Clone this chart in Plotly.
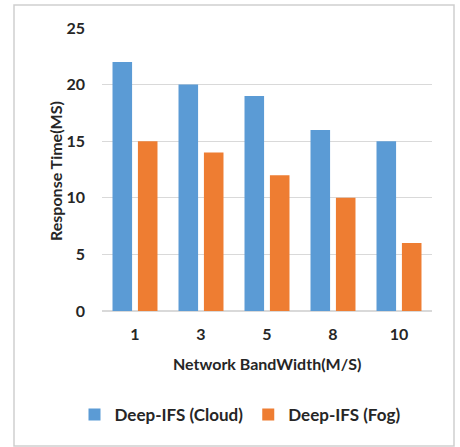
import plotly.graph_objects as go

categories = ["1", "3", "5", "8", "10"]
cloud = [22, 20, 19, 16, 15]
fog = [15, 14, 12, 10, 6]
y_ticks = [0, 5, 10, 15, 20, 25]

FONT = "Lato"
fig = go.Figure()
fig.add_trace(go.Bar(x=categories, y=cloud, name="Deep-IFS (Cloud)",
                     marker=dict(color="#5B9BD5", line=dict(width=0))))
fig.add_trace(go.Bar(x=categories, y=fog, name="Deep-IFS (Fog)",
                     marker=dict(color="#EE7D32", line=dict(width=0))))

W, H = 460, 447
L, R, T, B = 102, 28, 28, 136
pw, ph = W - L - R, H - T - B

def px(x):
    return (x - L) / pw

def py(y):
    return (H - B - y) / ph

fig.update_layout(
    width=W, height=H,
    margin=dict(l=L, r=R, t=T, b=B),
    paper_bgcolor="white", plot_bgcolor="white",
    barmode="group", bargap=0.23, bargroupgap=0.23,
    font=dict(family=FONT, color="#262626"),
    showlegend=True,
    legend=dict(orientation="h", x=px(240), y=py(415), xanchor="center", yanchor="middle",
                font=dict(size=17, family=FONT, weight="bold"), itemwidth=30,
                tracegroupgap=0),
    xaxis=dict(type="category", showgrid=False, showline=False, ticks="",
               tickfont=dict(size=16, family=FONT, weight="bold"), ticklabelstandoff=12),
    yaxis=dict(range=[0, 25], tickvals=y_ticks, showgrid=True, gridcolor="#D9D9D9",
               gridwidth=1, zeroline=True, zerolinecolor="#D9D9D9", showline=False,
               ticks="", tickfont=dict(size=16, family=FONT, weight="bold"),
               ticklabelstandoff=16),
    shapes=[dict(type="rect", xref="paper", yref="paper",
                 x0=px(14), x1=px(454), y0=py(446), y1=py(5),
                 line=dict(color="#CFCFCF", width=1.5), fillcolor="rgba(0,0,0,0)", layer="above")],
    annotations=[
        dict(text="Response Time(MS)", xref="paper", yref="paper", x=px(55), y=py(171),
             textangle=-90, showarrow=False, xanchor="center", yanchor="middle",
             font=dict(size=16, family=FONT, weight="bold")),
        dict(text="Network BandWidth(M/S)", xref="paper", yref="paper", x=px(267), y=py(363),
             showarrow=False, xanchor="center", yanchor="middle",
             font=dict(size=16, family=FONT, weight="bold")),
    ],
)

fig.write_html("out.html", config={"displayModeBar": False},
               post_script="document.body.style.margin='0px';")
